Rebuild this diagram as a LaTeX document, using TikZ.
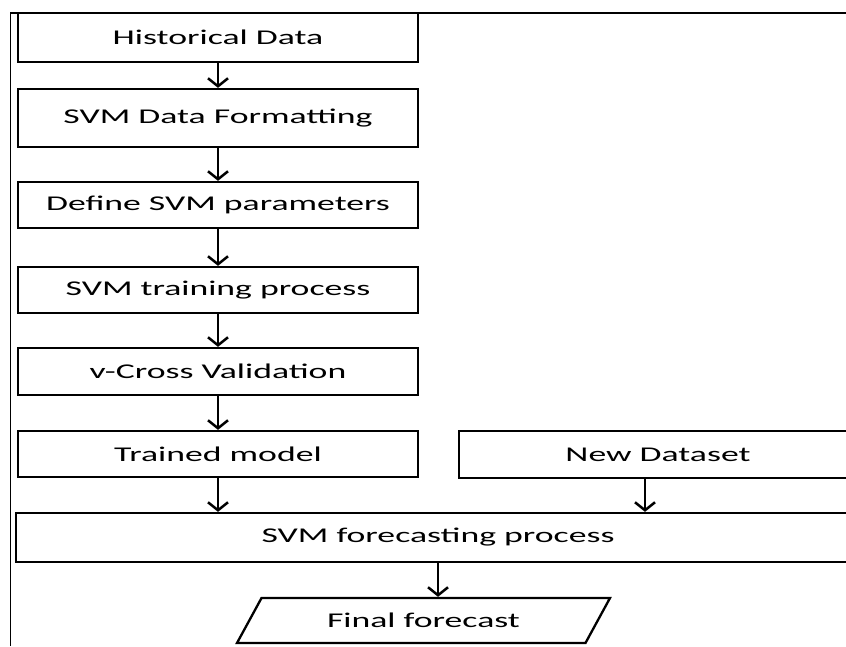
\documentclass[tikz,border=0pt]{standalone}
\usepackage{fontspec}
\setmainfont{Carlito}[FakeStretch=1.7]
\usetikzlibrary{arrows.meta,shapes.geometric}

\newcommand\boxfont{\fontsize{21}{25}\selectfont}

\begin{document}
\begin{tikzpicture}[x=1pt,y=-1pt,
  stepbox/.style={draw,line width=2.3pt,minimum width=400pt,inner sep=0pt,font=\boxfont},
  flow/.style={line width=2.5pt,-{Straight Barb[length=8pt,width=20pt]}}]
\useasboundingbox (0,0) rectangle (846,646);
\clip (0,0) rectangle (846,646);
% outer frame
\draw[line width=1.4pt] (10.5,646) -- (10.5,13) -- (846,13);
% left column
\node[stepbox,minimum height=49pt] (hist) at (218,37.5) {Historical Data};
\node[stepbox,minimum height=58pt] (fmt) at (218,118) {SVM Data Formatting};
\node[stepbox,minimum height=46pt] (param) at (218,205) {Define SVM parameters};
\node[stepbox,minimum height=46pt] (train) at (218,290) {SVM training process};
\node[stepbox,minimum height=47pt] (cv) at (218,371.5) {v-Cross Validation};
\node[stepbox,minimum height=46pt] (model) at (218,454) {Trained model};
% right input and forecasting
\node[stepbox,minimum height=47pt,minimum width=398pt] (newdata) at (658,454.5) {New Dataset};
\node[stepbox,minimum height=49pt,minimum width=844pt] (fcast) at (438,537.5) {SVM forecasting process};
\node[draw,line width=2.3pt,inner sep=0pt,font=\boxfont,trapezium,trapezium left angle=31,trapezium right angle=149,
  trapezium stretches body,minimum width=373pt,minimum height=45pt] (final) at (423.5,620.5) {Final forecast};
% arrows
\draw[flow] (hist) -- (fmt);
\draw[flow] (fmt) -- (param);
\draw[flow] (param) -- (train);
\draw[flow] (train) -- (cv);
\draw[flow] (cv) -- (model);
\draw[flow] (model.south) -- (model.south |- fcast.north);
\draw[flow] ([xshift=-13pt]newdata.south) -- ([xshift=-13pt]newdata.south |- fcast.north);
\draw[flow] (fcast.south) -- (fcast.south |- final.north);
\end{tikzpicture}
\end{document}
